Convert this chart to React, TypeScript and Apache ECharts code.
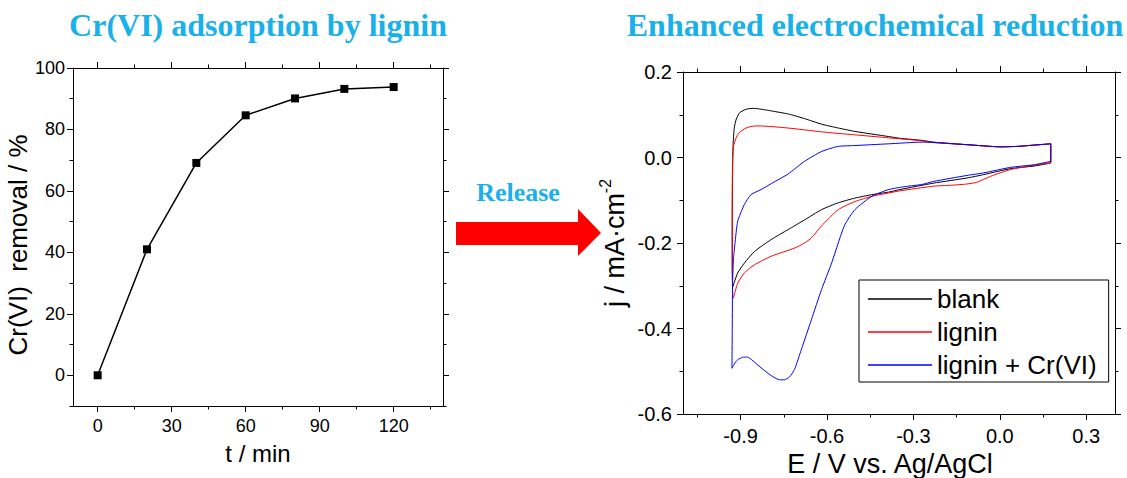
import { useEffect, useRef } from "react";
import * as echarts from "echarts";

// ---- Adsorption kinetics (left panel) ----
const adsorptionTime = [0, 20, 40, 60, 80, 100, 120];
const removalPercent = [0, 41.0, 69.1, 84.6, 90.1, 93.2, 93.8];
const timeTicks = [0, 30, 60, 90, 120];
const timeMinorTicks = [15, 45, 75, 105, 135];
const removalTicks = [0, 20, 40, 60, 80, 100];
const removalMinorTicks = [-10, 10, 30, 50, 70, 90];

// ---- Cyclic voltammograms (right panel), [E (V), j (mA/cm2)] in scan order ----
const blankCV: [number, number][] = [
  [0.177, -0.013], [0.119, -0.02], [0.038, -0.026], [-0.056, -0.04], [-0.114, -0.048],
  [-0.23, -0.06], [-0.347, -0.075], [-0.386, -0.081], [-0.445, -0.087], [-0.503, -0.095],
  [-0.561, -0.106], [-0.619, -0.122], [-0.678, -0.146], [-0.736, -0.169], [-0.794, -0.192],
  [-0.852, -0.22], [-0.887, -0.247], [-0.91, -0.27], [-0.922, -0.292], [-0.927, -0.302],
  [-0.929, -0.25], [-0.929, -0.15], [-0.928, -0.048], [-0.926, 0.03], [-0.922, 0.069],
  [-0.915, 0.09], [-0.903, 0.105], [-0.88, 0.113], [-0.855, 0.115], [-0.82, 0.112],
  [-0.794, 0.109], [-0.736, 0.102], [-0.678, 0.091], [-0.619, 0.078], [-0.561, 0.069],
  [-0.503, 0.061], [-0.386, 0.049], [-0.347, 0.045], [-0.27, 0.04], [-0.23, 0.036],
  [-0.114, 0.03], [0.003, 0.025], [0.061, 0.026], [0.119, 0.029], [0.177, 0.032],
  [0.177, -0.013],
];
const ligninCV: [number, number][] = [
  [0.177, -0.012], [0.119, -0.018], [0.038, -0.028], [-0.032, -0.044], [-0.08, -0.058],
  [-0.114, -0.062], [-0.172, -0.065], [-0.23, -0.067], [-0.347, -0.078], [-0.386, -0.083],
  [-0.445, -0.091], [-0.503, -0.103], [-0.561, -0.122], [-0.619, -0.16], [-0.654, -0.188],
  [-0.678, -0.2], [-0.713, -0.212], [-0.794, -0.231], [-0.852, -0.251], [-0.887, -0.27],
  [-0.91, -0.294], [-0.926, -0.329], [-0.929, -0.25], [-0.929, -0.1], [-0.928, -0.009],
  [-0.925, 0.025], [-0.916, 0.045], [-0.905, 0.058], [-0.881, 0.069], [-0.86, 0.073],
  [-0.84, 0.074], [-0.736, 0.069], [-0.619, 0.06], [-0.503, 0.053], [-0.386, 0.046],
  [-0.27, 0.039], [-0.23, 0.035], [-0.114, 0.03], [0.003, 0.025], [0.061, 0.026],
  [0.119, 0.029], [0.177, 0.032], [0.177, -0.012],
];
const ligninCrCV: [number, number][] = [
  [0.177, -0.009], [0.119, -0.017], [0.038, -0.023], [-0.056, -0.036], [-0.114, -0.042],
  [-0.23, -0.056], [-0.27, -0.063], [-0.328, -0.068], [-0.386, -0.075], [-0.445, -0.091],
  [-0.503, -0.122], [-0.538, -0.157], [-0.561, -0.2], [-0.584, -0.247], [-0.619, -0.309],
  [-0.654, -0.379], [-0.689, -0.449], [-0.713, -0.496], [-0.73, -0.513], [-0.748, -0.52],
  [-0.765, -0.52], [-0.794, -0.51], [-0.829, -0.492], [-0.86, -0.474], [-0.876, -0.467],
  [-0.89, -0.467], [-0.905, -0.471], [-0.916, -0.477], [-0.928, -0.49], [-0.93, -0.493],
  [-0.929, -0.4], [-0.928, -0.3], [-0.925, -0.24], [-0.92, -0.204], [-0.91, -0.149],
  [-0.887, -0.11], [-0.864, -0.087], [-0.829, -0.075], [-0.783, -0.057], [-0.736, -0.039],
  [-0.678, -0.009], [-0.619, 0.014], [-0.561, 0.026], [-0.503, 0.028], [-0.386, 0.032],
  [-0.27, 0.036], [-0.114, 0.03], [0.003, 0.025], [0.061, 0.026], [0.119, 0.029],
  [0.177, 0.032], [0.177, -0.009],
];
const potentialTicks = [-0.9, -0.6, -0.3, 0, 0.3];
const potentialMinorTicks = [-1.05, -0.75, -0.45, -0.15, 0.15];
const currentTicks = [-0.6, -0.4, -0.2, 0, 0.2];
const currentMinorTicks = [-0.5, -0.3, -0.1, 0.1];
const cvNames = ["blank", "lignin", "lignin + Cr(VI)"];
const cvColors = ["#000000", "#ff0000", "#0000ff"];

const SANS = "Arial, 'Liberation Sans', Helvetica, sans-serif";
const SERIF = "'Liberation Serif', 'Times New Roman', serif";
const TITLE_BLUE = "#1ab0ea";

type Dim = "x" | "y";

// Builds a closed box frame for one grid: main axis with labels, its minor ticks,
// and mirrored ticks on the opposite side.
function frameAxes(
  dim: Dim,
  gridIndex: number,
  min: number,
  max: number,
  major: number[],
  minor: number[],
  labelSize: number,
  labelMargin: number,
  fmt: (v: number) => string,
  extra: Record<string, unknown>
) {
  const mainPos = dim === "x" ? "bottom" : "left";
  const mirrorPos = dim === "x" ? "top" : "right";
  const line = { color: "#000", width: 1 };
  const base = {
    type: "value",
    gridIndex,
    min,
    max,
    splitLine: { show: false },
    minorTick: { show: false },
    axisPointer: { show: false },
  };
  const tickAxis = (pos: string, values: number[], len: number, showLine: boolean) => ({
    ...base,
    position: pos,
    axisLine: { show: showLine, onZero: false, lineStyle: line },
    axisTick: { show: true, customValues: values, length: len, inside: false, lineStyle: line },
    axisLabel: { show: false },
  });
  return [
    {
      ...base,
      position: mainPos,
      axisLine: { show: true, onZero: false, lineStyle: line },
      axisTick: { show: true, customValues: major, length: 6, inside: false, lineStyle: line },
      axisLabel: {
        show: true,
        customValues: major,
        formatter: (v: number) => fmt(v),
        fontSize: labelSize,
        fontFamily: SANS,
        color: "#000",
        margin: labelMargin,
      },
      ...extra,
    },
    tickAxis(mainPos, minor, 3.5, false),
    tickAxis(mirrorPos, major, 6, true),
    tickAxis(mirrorPos, minor, 3.5, false),
  ];
}

export default function App() {
  const ref = useRef<HTMLDivElement>(null);

  useEffect(() => {
    if (!ref.current) return;
    const chart = echarts.init(ref.current, undefined, { renderer: "svg" });

    const xAxes = [
      ...frameAxes("x", 0, -10, 140, timeTicks, timeMinorTicks, 18, 11, (v) => String(v), {
        name: "t / min",
        nameLocation: "middle",
        nameGap: 35,
        nameTextStyle: { fontSize: 24, fontFamily: SANS, color: "#000" },
      }),
      ...frameAxes("x", 1, -1.1, 0.4, potentialTicks, potentialMinorTicks, 20, 12, (v) => v.toFixed(1), {
        name: "E / V vs. Ag/AgCl",
        nameLocation: "middle",
        nameGap: 32,
        nameTextStyle: { fontSize: 27, fontFamily: SANS, color: "#000", padding: [0, 18, 0, 0] },
      }),
    ];
    const yAxes = [
      ...frameAxes("y", 0, -10, 100, removalTicks, removalMinorTicks, 18, 8, (v) => String(v), {
        name: "Cr(VI)  removal / %",
        nameLocation: "middle",
        nameRotate: 90,
        nameGap: 32,
        nameTextStyle: { fontSize: 26, fontFamily: SANS, color: "#000", padding: [0, 16, 0, 0] },
      }),
      ...frameAxes("y", 1, -0.6, 0.2, currentTicks, currentMinorTicks, 20, 11, (v) => v.toFixed(1), {
        name: "{a|j / mA·cm}{s|-2}",
        nameLocation: "middle",
        nameRotate: 90,
        nameGap: 50,
        nameTextStyle: {
          color: "#000",
          rich: {
            a: { fontSize: 27, fontFamily: SANS, color: "#000", lineHeight: 36 },
            s: { fontSize: 16, fontFamily: SANS, color: "#000", verticalAlign: "top" },
          },
        },
      }),
    ];

    const cvData = [blankCV, ligninCV, ligninCrCV];

    chart.setOption({
      animation: false,
      backgroundColor: "#ffffff",
      grid: [
        { left: 73, top: 68, width: 370, height: 338, outerBoundsMode: "none", containLabel: false },
        { left: 683, top: 72, width: 432, height: 342, outerBoundsMode: "none", containLabel: false },
      ],
      xAxis: xAxes,
      yAxis: yAxes,
      legend: {
        data: cvNames,
        orient: "vertical",
        left: 859,
        top: 280,
        padding: [4, 12, 2, 9],
        itemGap: 3,
        itemWidth: 64,
        itemHeight: 1.5,
        icon: "rect",
        borderColor: "#000",
        borderWidth: 1,
        backgroundColor: "#fff",
        textStyle: { fontSize: 26, fontFamily: SANS, color: "#000", lineHeight: 30 },
      },
      series: [
        {
          name: "Cr(VI) removal",
          type: "line",
          xAxisIndex: 0,
          yAxisIndex: 0,
          data: adsorptionTime.map((t, i) => [t, removalPercent[i]]),
          symbol: "rect",
          symbolSize: 8,
          lineStyle: { color: "#000", width: 1.5 },
          itemStyle: { color: "#000" },
          z: 3,
        },
        ...cvData.map((d, i) => ({
          name: cvNames[i],
          type: "line",
          xAxisIndex: 4,
          yAxisIndex: 4,
          data: d,
          symbol: "none",
          showSymbol: false,
          smooth: 0.2,
          lineStyle: { color: cvColors[i], width: 1 },
          itemStyle: { color: cvColors[i] },
          z: 3 + i,
        })),
      ],
      graphic: [
        {
          type: "text",
          x: 258,
          y: 25,
          style: {
            text: "Cr(VI) adsorption by lignin",
            font: `bold 32px ${SERIF}`,
            fill: TITLE_BLUE,
            align: "center",
            verticalAlign: "middle",
          },
        },
        {
          type: "text",
          x: 875,
          y: 25,
          style: {
            text: "Enhanced electrochemical reduction",
            font: `bold 32px ${SERIF}`,
            fill: TITLE_BLUE,
            align: "center",
            verticalAlign: "middle",
          },
        },
        {
          type: "text",
          x: 518,
          y: 192,
          style: {
            text: "Release",
            font: `bold 26px ${SERIF}`,
            fill: TITLE_BLUE,
            align: "center",
            verticalAlign: "middle",
          },
        },
        {
          type: "polygon",
          shape: {
            points: [
              [456, 222],
              [578, 222],
              [578, 209],
              [601, 233],
              [578, 256],
              [578, 245],
              [456, 245],
            ],
          },
          style: { fill: "#ff0000" },
        },
      ],
    });

    return () => chart.dispose();
  }, []);

  return (
    <div
      ref={ref}
      style={{ position: "absolute", left: 0, top: 0, width: 1127, height: 478, background: "#fff" }}
    />
  );
}
